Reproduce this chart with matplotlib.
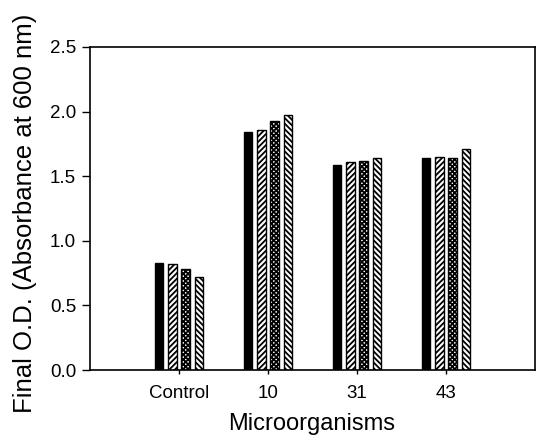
import matplotlib
matplotlib.use("Agg")
import matplotlib.pyplot as plt
import numpy as np

# Final optical density per microorganism, four treatments each
categories = ["Control", "10", "31", "43"]
series_1 = [0.83, 1.84, 1.59, 1.64]
series_2 = [0.82, 1.86, 1.61, 1.65]
series_3 = [0.78, 1.93, 1.62, 1.64]
series_4 = [0.72, 1.97, 1.64, 1.71]
yticks = [0.0, 0.5, 1.0, 1.5, 2.0, 2.5]

plt.rcParams["font.family"] = ["Liberation Sans", "DejaVu Sans"]
plt.rcParams["hatch.linewidth"] = 1.3

fig = plt.figure(figsize=(5.45, 4.45), dpi=100)
ax = fig.add_axes([0.1651, 0.1685, 0.8166, 0.7259])

x = np.arange(1, len(categories) + 1)
pitch = 0.15
width = 0.1
styles = [
    dict(color="black", hatch=None),
    dict(color="white", hatch="//////"),
    dict(color="white", hatch="xxxxxxx"),
    dict(color="white", hatch="\\\\\\\\\\\\"),
]
all_series = [series_1, series_2, series_3, series_4]
for i, (vals, st) in enumerate(zip(all_series, styles)):
    offs = (i - 1.5) * pitch
    ax.bar(x + offs, vals, width=width, facecolor=st["color"],
           edgecolor="black", linewidth=1.0, hatch=st["hatch"], zorder=2)

ax.set_xlim(0, 5)
ax.set_ylim(0, 2.5)
ax.set_yticks(yticks)
ax.set_yticklabels([f"{v:.1f}" for v in yticks])
ax.set_xticks(x)
ax.set_xticklabels(categories)

for s in ax.spines.values():
    s.set_linewidth(1.2)

ax.tick_params(axis="y", direction="out", length=6, width=1, pad=4, labelsize=13.5)
ax.tick_params(axis="x", direction="out", length=3, width=1, pad=8, labelsize=13.5)

ax.set_xlabel("Microorganisms", fontsize=17)
ax.xaxis.set_label_coords(0.499, -0.132)
ax.set_ylabel("Final O.D. (Absorbance at 600 nm)", fontsize=18.5, va="center")
ax.yaxis.set_label_coords(-0.145, 0.485)

fig.savefig("out.png", dpi=100)
